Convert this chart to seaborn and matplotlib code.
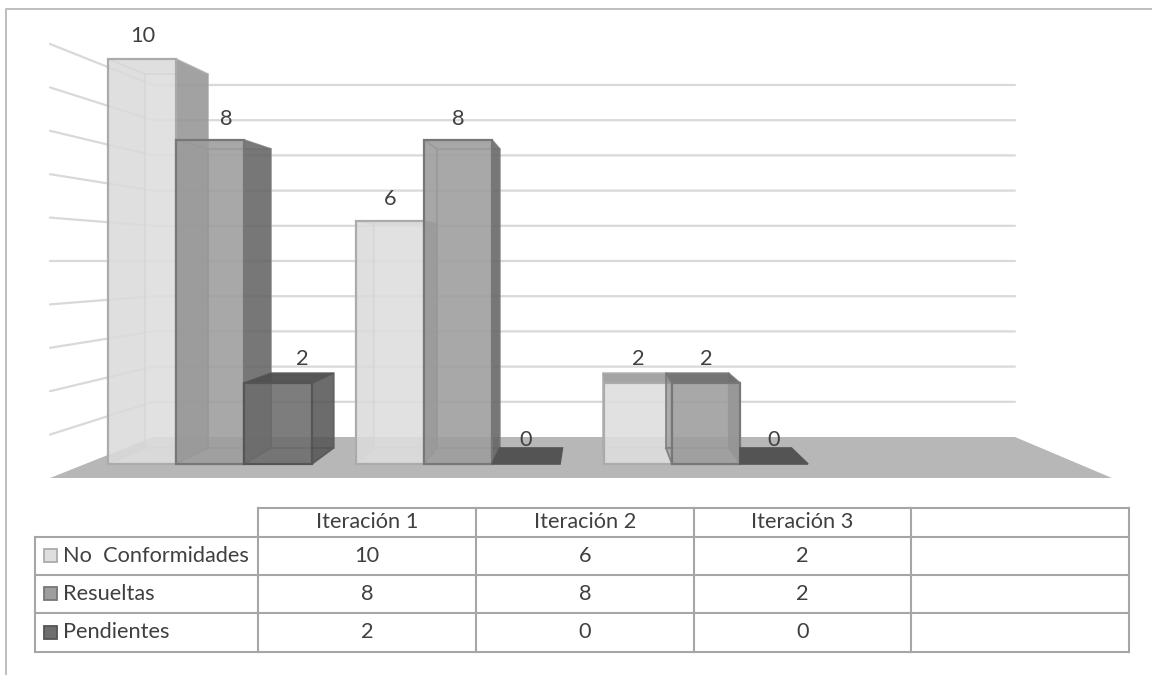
import matplotlib
matplotlib.use("Agg")
import matplotlib.pyplot as plt
import numpy as np
import pandas as pd
import seaborn as sns
from matplotlib.colors import to_rgba
from matplotlib.patches import Polygon, Rectangle

# Chart data
iterations = ["Iteración 1", "Iteración 2", "Iteración 3"]
series_names = ["No  Conformidades", "Resueltas", "Pendientes"]
no_conformidades = [10, 6, 2]
resueltas = [8, 8, 2]
pendientes = [2, 0, 0]
all_values = [no_conformidades, resueltas, pendientes]

# Shading per series: front, side, top, edge
FRONT = ["#DEDEDE", "#9E9E9E", "#6E6E6E"]
SIDE = ["#8E8E8E", "#5E5E5E", "#545454"]
TOP = ["#A0A0A0", "#707070", "#505050"]
EDGE = ["#ABABAB", "#777777", "#555555"]
TEXT = "#404040"
GRID = "#D9D9D9"
RULE = "#A6A6A6"
FONT_SIZE = 15.7

# Label offsets in px, per series and group, keeping values clear of neighbouring bars
LABEL_DX = [[1, 0, 0], [16, 0, 0], [24, 0, 0]]
LABEL_DY = [[23, 22, 24], [21, 21, 24], [24, 24, 24]]

sns.set_theme(style="white")
plt.rcParams["font.family"] = ["Lato", "DejaVu Sans"]

W, H = 1152, 675
fig = plt.figure(figsize=(W / 100, H / 100), dpi=100, facecolor="white")

# Pixel-based layer for the surrounding frame, wall, floor and data table
base = fig.add_axes([0, 0, 1, 1], zorder=0)
base.set_xlim(0, W)
base.set_ylim(H, 0)
base.axis("off")

base.plot([6, 6, W], [H, 9, 9], color="#BEBEBE", lw=1.4, solid_capstyle="butt")

# Perspective wall and floor
grid_levels = np.arange(1, 11)
for level in grid_levels:
    y_front = 478 - 43.4 * level
    y_back = 437 - 35.2 * level
    base.plot([50, 153, 1015], [y_front, y_back, y_back], color=GRID, lw=1.6,
              solid_joinstyle="miter")
base.add_patch(Polygon([(50, 478), (1112, 478), (1015, 437), (153, 437)],
                       closed=True, fc="#B7B7B7", ec="none"))

# Bars on a value scale: one category step is 248 px, one unit 40.5 px
ax = fig.add_axes([0, 0, 1, 1], zorder=1)
ax.patch.set_alpha(0)
frame = pd.DataFrame({
    "iteracion": np.tile(iterations, len(series_names)),
    "serie": np.repeat(series_names, len(iterations)),
    "valor": np.concatenate(all_values),
})
sns.barplot(data=frame, x="iteracion", y="valor", hue="serie",
            order=iterations, hue_order=series_names, palette=FRONT,
            width=204 / 248, gap=0, saturation=1, legend=False, ax=ax)
ax.set_xlim(-210 / 248, (W - 210) / 248)
ax.set_ylim((464 - H) / 40.5, 464 / 40.5)
ax.axis("off")

# Vanishing point and depth scale of the bar bodies, in axis units
VX, VY, DEPTH = (592 - 210) / 248, (464 - 256) / 40.5, 0.923


def recede(x, y):
    return VX + DEPTH * (x - VX), VY + DEPTH * (y - VY)


FACE_ALPHA = 0.84
for s, container in enumerate(ax.containers):
    for g, bar in enumerate(container):
        x0, x1 = bar.get_x(), bar.get_x() + bar.get_width()
        h = bar.get_height()
        order = 10 * (g * 3 + s) + 10
        fbl, fbr, ftr, ftl = (x0, 0), (x1, 0), (x1, h), (x0, h)
        bbl, bbr, btr, btl = [recede(*p) for p in (fbl, fbr, ftr, ftl)]
        if h == 0:
            # A flat slab; past the vanishing point its left part hides behind the previous bar
            if x0 > VX:
                bbl = (x0, bbl[1])
            ax.add_patch(Polygon([fbl, fbr, bbr, bbl], closed=True, fc=SIDE[s],
                                 ec=EDGE[s], lw=1.2, zorder=order))
        else:
            faces = [
                ([bbl, bbr, btr, btl], FRONT[s], 0.35),
                ([fbl, fbr, bbr, bbl], FRONT[s], 0.35),
                ([fbl, ftl, btl, bbl], SIDE[s], 0.22),
                ([fbr, ftr, btr, bbr], SIDE[s], 0.8),
                ([ftl, ftr, btr, btl], TOP[s], 0.95 if h * 40.5 < 100 else 0.25),
            ]
            for k, (pts, colour, alpha) in enumerate(faces):
                ax.add_patch(Polygon(pts, closed=True, fc=to_rgba(colour, alpha),
                                     ec=to_rgba(EDGE[s], 0.55), lw=1.2,
                                     zorder=order + k * 0.1))
        bar.set_facecolor(to_rgba(FRONT[s], FACE_ALPHA))
        bar.set_edgecolor(EDGE[s])
        bar.set_linewidth(1.6)
        bar.set_zorder(order + 1)
        if h == 0:
            bar.set_visible(False)

        ax.annotate(f"{all_values[s][g]}", (bar.get_x() + bar.get_width() / 2, h),
                    xytext=(LABEL_DX[s][g] * 0.72, LABEL_DY[s][g] * 0.72),
                    textcoords="offset points", ha="center", va="center",
                    fontsize=FONT_SIZE, color=TEXT, zorder=500)

# Data table below the chart
col_edges = np.array([258, 476, 694, 911, 1129])
row_edges = np.array([508, 537, 575, 613, 652])
left_edge = 35
base_lines = dict(color=RULE, lw=1.5, solid_capstyle="projecting")
base.plot([col_edges[0], col_edges[-1]], [row_edges[0]] * 2, **base_lines)
for y in row_edges[1:]:
    base.plot([left_edge, col_edges[-1]], [y, y], **base_lines)
for x in col_edges:
    base.plot([x, x], [row_edges[0], row_edges[-1]], **base_lines)
base.plot([left_edge, left_edge], [row_edges[1], row_edges[-1]], **base_lines)

for c, label in enumerate(iterations):
    base.text((col_edges[c] + col_edges[c + 1]) / 2, (row_edges[0] + row_edges[1]) / 2, label,
              ha="center", va="center", fontsize=FONT_SIZE, color=TEXT)
for r, name in enumerate(series_names):
    yc = (row_edges[r + 1] + row_edges[r + 2]) / 2
    base.add_patch(Rectangle((44, yc - 7), 13, 13, fc=FRONT[r], ec=EDGE[r], lw=1.3))
    base.text(63, yc, name, ha="left", va="center", fontsize=FONT_SIZE, color=TEXT)
    for c, value in enumerate(all_values[r]):
        base.text((col_edges[c] + col_edges[c + 1]) / 2, yc, str(value),
                  ha="center", va="center", fontsize=FONT_SIZE, color=TEXT)

fig.savefig("out.png", dpi=100, facecolor="white")
